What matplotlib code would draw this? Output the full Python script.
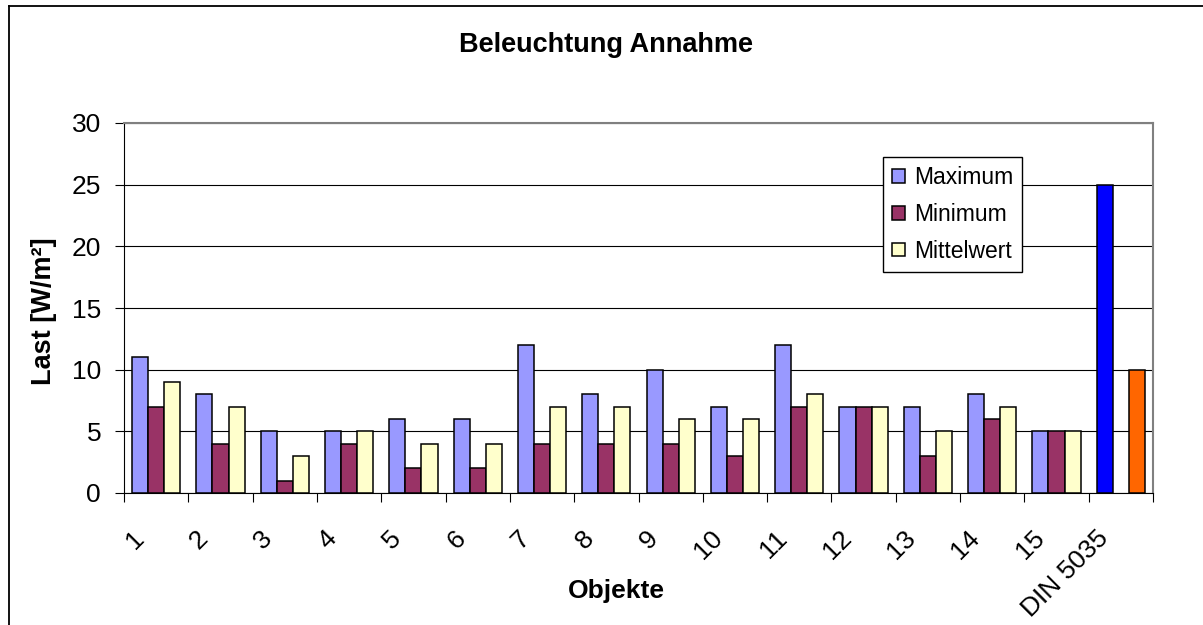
import numpy as np
import matplotlib
matplotlib.use("Agg")
import matplotlib.pyplot as plt
from matplotlib.lines import Line2D
from matplotlib.transforms import ScaledTranslation

plt.rcParams['font.family'] = ['Liberation Sans', 'DejaVu Sans']

# data
categories = ['1', '2', '3', '4', '5', '6', '7', '8', '9', '10',
              '11', '12', '13', '14', '15', 'DIN 5035']
maximum = [11, 8, 5, 5, 6, 6, 12, 8, 10, 7, 12, 7, 7, 8, 5, 25]
minimum = [7, 4, 1, 4, 2, 2, 4, 4, 4, 3, 7, 7, 3, 6, 5, np.nan]
mittelwert = [9, 7, 3, 5, 4, 4, 7, 7, 6, 6, 8, 7, 5, 7, 5, 10]
yticks = [0, 5, 10, 15, 20, 25, 30]

fig = plt.figure(figsize=(12.03, 6.25), dpi=100)
ax = fig.add_axes([124 / 1203, 1 - 493 / 625, 1029 / 1203, 370 / 625])

x = np.arange(len(categories))
w = 0.25
b_max = ax.bar(x - w, maximum, w, color='#9999FF', edgecolor='black', lw=1.1, label='Maximum', zorder=3)
b_min = ax.bar(x, minimum, w, color='#993366', edgecolor='black', lw=1.1, label='Minimum', zorder=3)
b_mit = ax.bar(x + w, mittelwert, w, color='#FFFFCC', edgecolor='black', lw=1.1, label='Mittelwert', zorder=3)

# DIN reference bars have their own colours
b_max[-1].set_facecolor('#0000FF')
b_mit[-1].set_facecolor('#FF6600')

ax.set_xlim(-0.5, len(categories) - 0.5)
ax.set_ylim(0, 30)
ax.set_yticks(yticks)
ax.yaxis.grid(True, color='black', lw=0.8)
ax.set_axisbelow(True)

# ticks between categories, labels in the middle
ax.set_xticks(np.arange(len(categories) + 1) - 0.5)
ax.set_xticklabels([])
ax.set_xticks(x, categories, minor=True)
ax.tick_params(axis='x', which='minor', length=0, pad=30, labelsize=19)
ax.tick_params(axis='x', which='major', length=6.5, width=0.8, direction='out')
ax.tick_params(axis='y', length=6.5, width=0.8, pad=10, labelsize=19)
offset = ScaledTranslation(-0.16, 0, fig.dpi_scale_trans)
for lab in ax.get_xticklabels(minor=True):
    lab.set_rotation(45)
    lab.set_ha('right')
    lab.set_va('center')
    lab.set_rotation_mode('anchor')
    lab.set_transform(lab.get_transform() + offset)

for s in ['top', 'right']:
    ax.spines[s].set_color('#808080')
    ax.spines[s].set_linewidth(1.5)
for s in ['left', 'bottom']:
    ax.spines[s].set_color('black')
    ax.spines[s].set_linewidth(0.8)

leg = ax.legend(loc='upper left', bbox_to_anchor=(883 / 1203, 1 - 157 / 625),
                bbox_transform=fig.transFigure, borderaxespad=0, fontsize=16.5,
                frameon=True, fancybox=False, edgecolor='black', framealpha=1,
                handlelength=0.55, handleheight=0.55, handletextpad=0.4,
                labelspacing=0.6, borderpad=0.4)
leg.get_frame().set_linewidth(1)

fig.text(606 / 1203, 1 - 52 / 625, 'Beleuchtung Annahme', ha='center', va='baseline',
         fontsize=19.5, fontweight='bold')
fig.text(616 / 1203, 1 - 598 / 625, 'Objekte', ha='center', va='baseline',
         fontsize=19, fontweight='bold')
fig.text(44 / 1203, 1 - 311 / 625, 'Last [W/m²]', ha='center', va='center',
         rotation=90, fontsize=19.5, fontweight='bold')

# outer chart border (cut off at right and bottom)
fig.add_artist(Line2D([8.5 / 1203, 1.0], [1 - 5.5 / 625, 1 - 5.5 / 625], color='black', lw=1.3))
fig.add_artist(Line2D([8.5 / 1203, 8.5 / 1203], [0, 1 - 5.5 / 625], color='black', lw=1.3))

fig.savefig('out.png', dpi=100)
